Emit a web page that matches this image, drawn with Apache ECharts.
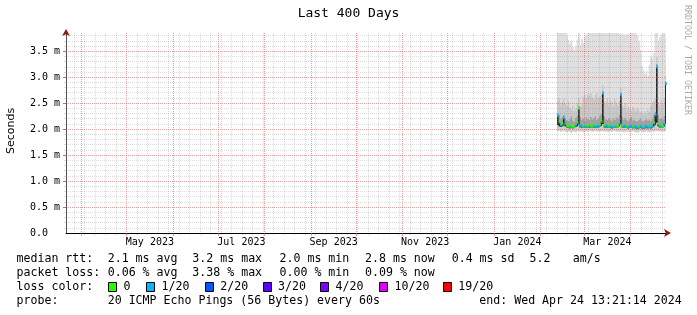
<!DOCTYPE html>
<html>
<head>
<meta charset="utf-8">
<script src="https://cdn.jsdelivr.net/npm/echarts@6/dist/echarts.min.js"></script>
<style>
html,body{margin:0;padding:0;background:#ffffff;}
#chart{width:697px;height:315px;}
</style>
</head>
<body>
<div id="chart"></div>
<script>
// ---------------- data ----------------
const titleText = 'Last 400 Days';
const startTime = '2023-03-21T13:21:14Z';
const endTime = '2024-04-24T13:21:14Z';
const firstSample = '2024-02-12T13:21:14Z'; // one sample per day from here
const yMax = 3.85;
const yLabelValues = [0, 0.5, 1, 1.5, 2, 2.5, 3, 3.5];
const xLabels = ['May 2023', 'Jul 2023', 'Sep 2023', 'Nov 2023', 'Jan 2024', 'Mar 2024'];
const xLabelMonths = ['2023-05', '2023-07', '2023-09', '2023-11', '2024-01', '2024-03'];

// median rtt (ms)
const median = [
  2.26,2.14,2.08,2.10,2.22,2.10,2.07,2.05,2.04,2.06,
  2.04,2.05,2.08,2.12,2.40,2.07,2.05,2.06,2.05,2.07,
  2.06,2.05,2.06,2.05,2.06,2.07,2.05,2.06,2.08,2.15,
  2.69,2.07,2.06,2.05,2.06,2.05,2.04,2.06,2.05,2.06,
  2.05,2.10,2.66,2.07,2.05,2.06,2.05,2.04,2.05,2.06,
  2.04,2.05,2.04,2.03,2.04,2.05,2.04,2.03,2.04,2.05,
  2.04,2.05,2.04,2.05,2.12,2.27,3.20,2.10,2.05,2.06,
  2.05,2.10,2.88
];
// fastest ping (ms)
const pingMin = [
  1.96,1.97,1.95,1.96,1.97,1.95,1.94,1.96,1.95,1.93,
  1.96,1.95,1.94,1.96,1.97,1.95,1.96,1.94,1.95,1.96,
  1.95,1.97,1.96,1.95,1.96,1.97,1.95,1.96,1.95,1.96,
  1.97,1.95,1.96,1.95,1.94,1.96,1.95,1.96,1.97,1.95,
  1.96,1.95,1.96,1.95,1.94,1.95,1.96,1.95,1.94,1.95,
  1.96,1.95,1.94,1.93,1.95,1.96,1.95,1.94,1.95,1.96,
  1.95,1.94,1.95,1.96,1.95,1.96,1.97,1.95,1.96,1.95,
  1.96,1.95,1.97
];
// lower edge of dark smoke (ms)
const smokeLow = [
  2.08,2.05,2.04,2.05,2.07,2.05,2.03,2.02,2.01,2.03,
  2.01,2.02,2.04,2.05,2.08,2.03,2.02,2.03,2.02,2.03,
  2.03,2.02,2.03,2.02,2.03,2.03,2.02,2.03,2.04,2.06,
  2.10,2.03,2.03,2.02,2.03,2.02,2.01,2.03,2.02,2.03,
  2.02,2.05,2.09,2.03,2.02,2.03,2.02,2.01,2.02,2.03,
  2.01,2.02,2.01,2.00,2.01,2.02,2.01,2.00,2.01,2.02,
  2.01,2.02,2.01,2.02,2.05,2.08,2.12,2.05,2.02,2.03,
  2.02,2.05,2.10
];
// upper edge of dark smoke (ms)
const smokeDarkTop = [
  2.31,2.28,2.20,2.24,2.27,2.22,2.18,2.16,2.20,2.25,
  2.17,2.15,2.22,2.26,2.45,2.24,2.19,2.21,2.17,2.23,
  2.20,2.18,2.24,2.19,2.22,2.25,2.18,2.21,2.26,2.30,
  2.74,2.25,2.20,2.18,2.22,2.19,2.16,2.21,2.18,2.23,
  2.20,2.28,2.71,2.24,2.19,2.22,2.18,2.16,2.20,2.24,
  2.17,2.19,2.16,2.15,2.18,2.21,2.17,2.15,2.18,2.20,
  2.17,2.19,2.16,2.20,2.28,2.33,3.26,2.27,2.20,2.22,
  2.19,2.26,2.93
];
// upper edge of medium smoke (ms)
const smokeMidTop = [
  2.55,2.60,2.48,2.52,2.58,2.50,2.45,2.55,2.42,2.38,
  2.46,2.35,2.40,2.50,2.60,2.44,2.48,2.62,2.66,2.60,
  2.68,2.64,2.70,2.62,2.58,2.66,2.70,2.60,2.64,2.68,
  2.85,2.55,2.50,2.60,2.48,2.56,2.52,2.45,2.58,2.50,
  2.47,2.55,2.80,2.46,2.42,2.50,2.38,2.45,2.40,2.36,
  2.44,2.40,2.35,2.42,2.38,2.33,2.36,2.30,2.35,2.32,
  2.38,2.34,2.46,2.50,2.55,2.60,3.40,2.52,2.48,2.56,
  2.50,2.60,3.05
];
// slowest ping (ms)
const pingMax = [
  3.86,3.86,3.86,3.86,3.86,3.86,3.80,3.72,3.64,3.70,
  3.58,3.52,3.60,3.72,3.86,3.62,3.74,3.66,3.78,3.82,
  3.86,3.86,3.86,3.86,3.86,3.86,3.86,3.86,3.86,3.86,
  3.86,3.86,3.84,3.86,3.86,3.86,3.86,3.84,3.86,3.86,
  3.86,3.83,3.82,3.84,3.82,3.80,3.83,3.81,3.84,3.86,
  3.85,3.86,3.84,3.80,3.70,3.52,3.22,3.14,3.06,3.12,
  3.02,3.24,3.40,3.36,3.46,3.86,3.86,3.70,3.78,3.82,
  3.86,3.86,3.76
];
// lost pings out of 20
const lossCount = [
  1,0,1,0,1,1,0,0,1,0,
  0,0,1,0,0,1,1,0,1,0,
  0,1,0,0,1,0,1,1,0,0,
  1,0,1,1,0,1,1,0,1,0,
  0,1,1,0,1,1,0,1,1,1,
  0,1,1,1,0,1,1,0,1,1,
  1,0,1,1,0,1,1,0,1,0,
  0,1,1
];
const lossLevels = [0, 1, 2, 3, 4, 10, 19];
const lossLabels = ['0', '1/20', '2/20', '3/20', '4/20', '10/20', '19/20'];
const lossColors = ['#26ff00', '#00b8ff', '#0059ff', '#5e00ff', '#7e00ff', '#dd00ff', '#ff0000'];

const rttStats = ['median rtt:', '2.1 ms avg', '3.2 ms max', '2.0 ms min', '2.8 ms now', '0.4 ms sd', '5.2', 'am/s'];
const lossStats = ['packet loss:', '0.06 % avg', '3.38 % max', '0.00 % min', '0.09 % now'];
const probeText = ['probe:', '20 ICMP Echo Pings (56 Bytes) every 60s', 'end: Wed Apr 24 13:21:14 2024'];

// ---------------- build ----------------
const DAY = 86400000;
const t0 = Date.parse(startTime), t1 = Date.parse(endTime), tS = Date.parse(firstSample);
const times = median.map((_, i) => tS + i * DAY);

function lossColor(n) {
  let c = lossColors[0];
  lossLevels.forEach((lv, k) => { if (n >= lv) c = lossColors[k]; });
  return c;
}

// grid positions (months red, Mondays gray)
const monthStarts = [];
for (let k = 0; ; k++) {
  const t = Date.UTC(2023, 3 + k, 1);
  if (t > t1) break;
  monthStarts.push(t);
}
const mondays = [];
for (let t = Date.UTC(2023, 2, 27); t < t1; t += 7 * DAY) {
  if (t > t0 && monthStarts.indexOf(t) < 0) mondays.push(t);
}
const labelTimes = xLabelMonths.map(s => {
  const y = +s.slice(0, 4), m = +s.slice(5) - 1;
  return (Date.UTC(y, m, 1) + Date.UTC(y, m + 1, 1)) / 2;
});
const yMinor = [];
for (let k = 1; k / 10 < yMax; k++) { if (k % 5 !== 0) yMinor.push(k / 10); }
const yMajor = yLabelValues.filter(v => v > 0);

const RED = 'rgba(222,80,80,0.55)';
const GRAY = 'rgba(143,143,143,0.32)';
const ARROW = '#8b1a1a';
const MONO = '"DejaVu Sans Mono", monospace';

// smoke table: [time, min, low, median, darkTop, midTop, max]
const smokeData = times.map((t, i) => [t, pingMin[i], smokeLow[i], median[i], smokeDarkTop[i], smokeMidTop[i], Math.min(pingMax[i], yMax)]);
// [from column, to column, colour, min width]
const smokeBands = [
  [1, 2, '#cdcdcd', 0],
  [3, 4, '#9e9e9e', 0],
  [4, 5, '#c6c6c6', 0],
  [5, 6, '#dedede', 0],
  [2, 3, '#262626', 2]
];

const series = [{
  type: 'custom',
  xAxisIndex: 0, yAxisIndex: 0,
  data: smokeData,
  encode: { x: 0, y: [1, 2, 3, 4, 5, 6] },
  silent: true,
  clip: true,
  z: 2,
  renderItem: function (params, api) {
    const t = api.value(0);
    const w = api.size([DAY, 0])[0];
    const cx = api.coord([t, 0])[0];
    return {
      type: 'group',
      children: smokeBands.map(b => {
        const yLo = api.coord([t, api.value(b[0])])[1];
        const yHi = api.coord([t, api.value(b[1])])[1];
        const bw = Math.max(w + 0.3, b[3]);
        return { type: 'rect', shape: { x: cx - bw / 2, y: yHi, width: bw, height: Math.max(0, yLo - yHi) },
          style: { fill: b[2] } };
      })
    };
  }
}, {
  type: 'scatter',
  xAxisIndex: 0, yAxisIndex: 0,
  symbol: 'rect',
  symbolSize: [2, 3],
  data: median.map((v, i) => ({ value: [times[i], v], itemStyle: { color: lossColor(lossCount[i]) } })),
  silent: true,
  z: 10
}];

// legend / text graphics
const g = [];
function txt(x, y, s) {
  g.push({ type: 'text', x: x, y: y, silent: true,
    style: { text: s, font: '11.6px ' + MONO, fill: '#000', align: 'left', verticalAlign: 'middle' } });
}
const colX1 = [16.5, 107.7, 192.3, 279.5, 365, 451.7, 529.6, 572.8];
rttStats.forEach((s, i) => txt(colX1[i], 259, s));
lossStats.forEach((s, i) => txt(colX1[i], 273, s));
txt(16.5, 287, 'loss color:');
const boxX = [108, 146, 204.7, 262.6, 320, 379, 442.8];
lossLabels.forEach((s, i) => {
  g.push({ type: 'rect', silent: true, shape: { x: Math.round(boxX[i]) + 0.5, y: 282.5, width: 8, height: 9 },
    style: { fill: lossColors[i], stroke: '#000', lineWidth: 1 } });
  txt(boxX[i] + 15.5, 287, s);
});
txt(16.5, 301, probeText[0]);
txt(107.7, 301, probeText[1]);
txt(479.3, 301, probeText[2]);
g.push({ type: 'text', x: 11, y: 131, rotation: Math.PI / 2, silent: true,
  style: { text: 'Seconds', font: '11px "DejaVu Sans", sans-serif', fill: '#000', align: 'center', verticalAlign: 'middle' } });
g.push({ type: 'text', x: 687, y: 60, rotation: -Math.PI / 2, silent: true,
  style: { text: 'RRDTOOL / TOBI OETIKER', font: '8.3px ' + MONO, fill: '#aaaaaa', align: 'center', verticalAlign: 'middle' } });

const option = {
  animation: false,
  backgroundColor: '#ffffff',
  title: {
    text: titleText, left: 'center', top: 2,
    textStyle: { fontFamily: MONO, fontSize: 13, fontWeight: 'normal', color: '#000' }
  },
  grid: { left: 66, right: 31, top: 33, bottom: 82, containLabel: false },
  xAxis: [
    { // main axis (ms timestamps) with month grid
      type: 'value', min: t0, max: t1, gridIndex: 0, position: 'bottom', z: 4,
      axisLine: { show: true, onZero: false, lineStyle: { color: '#000', width: 1 } },
      axisTick: { show: true, length: 3, customValues: monthStarts, lineStyle: { color: RED } },
      axisLabel: {
        show: true, customValues: labelTimes, margin: 4, hideOverlap: false,
        fontFamily: MONO, fontSize: 10, color: '#000',
        formatter: function (v) {
          let best = -1, bd = Infinity;
          labelTimes.forEach((t, i) => { const d = Math.abs(t - v); if (d < bd) { bd = d; best = i; } });
          return bd < DAY ? xLabels[best] : '';
        }
      },
      splitLine: { show: true, lineStyle: { color: RED, type: [1, 1], width: 1 } }
    },
    { // weekly minor grid
      type: 'value', min: t0, max: t1, gridIndex: 0, position: 'bottom', z: 3,
      axisLine: { show: false }, axisLabel: { show: false },
      axisTick: { show: true, length: 2, customValues: mondays, lineStyle: { color: GRAY } },
      splitLine: { show: true, lineStyle: { color: GRAY, type: [1, 1], width: 1 } }
    },
    { // arrow only
      type: 'value', min: t0, max: t1, gridIndex: 0, position: 'bottom', z: 5,
      axisLine: { show: true, onZero: false, symbol: ['none', 'arrow'], symbolSize: [6, 7], symbolOffset: [0, 5],
        lineStyle: { color: ARROW, width: 0 } },
      axisTick: { show: false }, axisLabel: { show: false }, splitLine: { show: false }
    }
  ],
  yAxis: [
    { // main value axis
      type: 'value', min: 0, max: yMax, gridIndex: 0, position: 'left', z: 4,
      axisLine: { show: true, onZero: false, lineStyle: { color: '#555', width: 1 } },
      axisTick: { show: true, length: 3, customValues: yMajor, lineStyle: { color: '#888' } },
      axisLabel: {
        show: true, customValues: yLabelValues, margin: 6, fontFamily: MONO, fontSize: 10, color: '#000',
        formatter: v => (v === 0 ? '0.0  ' : v.toFixed(1) + ' m')
      },
      splitLine: { show: true, lineStyle: { color: RED, type: [1, 1], width: 1 } }
    },
    { // minor grid
      type: 'value', min: 0, max: yMax, gridIndex: 0, position: 'left', offset: 0, z: 3,
      axisLine: { show: false }, axisLabel: { show: false },
      axisTick: { show: true, length: 2, customValues: yMinor, lineStyle: { color: GRAY } },
      splitLine: { show: true, lineStyle: { color: GRAY, type: [1, 1], width: 1 } }
    },
    { // arrow only
      type: 'value', min: 0, max: yMax, gridIndex: 0, position: 'left', offset: 0, z: 5,
      axisLine: { show: true, onZero: false, symbol: ['none', 'arrow'], symbolSize: [6, 7], symbolOffset: [0, 4],
        lineStyle: { color: ARROW, width: 0 } },
      axisTick: { show: false }, axisLabel: { show: false }, splitLine: { show: false }
    }
  ],
  series: series,
  graphic: g
};

const chart = echarts.init(document.getElementById('chart'), null, { renderer: 'canvas' });
chart.setOption(option);
</script>
</body>
</html>
